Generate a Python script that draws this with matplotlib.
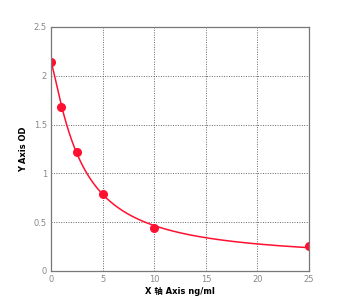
import matplotlib.pyplot as plt
import numpy as np

conc = [0, 1, 2.5, 5, 10, 25]
od = [2.14, 1.68, 1.22, 0.79, 0.44, 0.25]
x_ticks = [0, 5, 10, 15, 20, 25]
y_ticks = [0, 0.5, 1, 1.5, 2, 2.5]

plt.rcParams['font.family'] = ['DejaVu Sans', 'Noto Sans CJK SC']

fig = plt.figure(figsize=(3.5, 2.99), dpi=100)
ax = fig.add_axes([0.146, 0.094, 0.737, 0.816])

# four parameter logistic fit, brute force over c and b
x = np.array(conc, dtype=float)
y = np.array(od)
best = None
for c in np.linspace(0.5, 20, 200):
    for b in np.linspace(0.3, 3, 100):
        g = 1 / (1 + (x / c) ** b)
        A = np.column_stack([g, 1 - g])
        sol, *_ = np.linalg.lstsq(A, y, rcond=None)
        err = np.sum((A @ sol - y) ** 2)
        if best is None or err < best[0]:
            best = (err, c, b, sol)
_, c, b, (a, d) = best
xs = np.linspace(0, 25, 300)
ys = d + (a - d) / (1 + (xs / c) ** b)

ax.plot(xs, ys, color='#ff1030', linewidth=1.1)
ax.plot(conc, od, 'o', color='#ff1030', markersize=5.5)

ax.set_xlim(0, 25)
ax.set_ylim(0, 2.5)
ax.set_xticks(x_ticks)
ax.set_yticks(y_ticks)
ax.set_xticklabels([str(t) for t in x_ticks])
ax.set_yticklabels(['0', '0.5', '1', '1.5', '2', '2.5'])
ax.tick_params(labelsize=6, colors='#888888', length=0, pad=3)
ax.grid(True, linestyle=(0, (1, 1.5)), color='#666666', linewidth=0.7)
for s in ax.spines.values():
    s.set_color('#777777')
    s.set_linewidth(0.9)

ax.set_xlabel('X 轴 Axis ng/ml', fontsize=6, fontweight='bold', labelpad=2)
ax.set_ylabel('Y Axis OD', fontsize=6, fontweight='bold', labelpad=4)

fig.savefig('out.png', dpi=100)
